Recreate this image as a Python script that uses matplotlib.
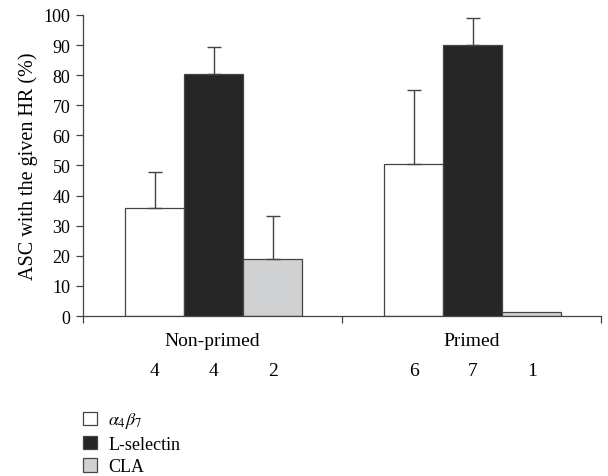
import matplotlib
matplotlib.use('Agg')
import matplotlib.pyplot as plt
from matplotlib.patches import Patch
import numpy as np

plt.rcParams['font.family'] = ['Liberation Serif', 'DejaVu Serif']
plt.rcParams['mathtext.fontset'] = 'stix'

groups = ["Non-primed", "Primed"]
series = ["$\\alpha_4\\beta_7$", "L-selectin", "CLA"]
colors = ["white", "#262626", "#d0d1d3"]
means = {
    "$\\alpha_4\\beta_7$": [35.8, 50.5],
    "L-selectin": [80.4, 90.0],
    "CLA": [18.8, 1.2],
}
errors = {
    "$\\alpha_4\\beta_7$": [12.0, 24.5],
    "L-selectin": [8.8, 9.0],
    "CLA": [14.4, 0.0],
}
counts = {
    "$\\alpha_4\\beta_7$": [4, 6],
    "L-selectin": [4, 7],
    "CLA": [2, 1],
}

fig = plt.figure(figsize=(6.08, 4.77), dpi=100)
ax = fig.add_axes([0.1365, 0.3354, 0.852, 0.6311])

width = 0.228
offsets = [-width, 0, width]
x = np.arange(len(groups)) + 0.005
edge = "#444444"
for s, c, off in zip(series, colors, offsets):
    xs = x + off
    ax.bar(xs, means[s], width=width, color=c, edgecolor=edge, linewidth=0.9, zorder=2)
    for xi, m, e in zip(xs, means[s], errors[s]):
        if e > 0:
            ax.errorbar(xi, m, yerr=[[0], [e]], fmt='none', ecolor=edge,
                        elinewidth=1.0, capsize=5, capthick=1.0, zorder=3)
    for xi, n in zip(xs, counts[s]):
        ax.text(xi, -18.0, str(n), ha='center', va='center', fontsize=14)

for xi, g in zip(np.arange(len(groups)), groups):
    ax.text(xi, -8.0, g, ha='center', va='center', fontsize=14)

ax.set_xlim(-0.5, 1.5)
ax.set_ylim(0, 100)
ax.set_yticks(range(0, 101, 10))
ax.set_xticks([-0.5, 0.5, 1.5])
ax.set_xticklabels([])
ax.tick_params(axis='y', direction='out', length=5, width=0.9, color=edge, labelsize=13, pad=4)
ax.tick_params(axis='x', direction='out', length=5, width=0.9, color=edge)
for sp in ['top', 'right']:
    ax.spines[sp].set_visible(False)
for sp in ['left', 'bottom']:
    ax.spines[sp].set_color(edge)
    ax.spines[sp].set_linewidth(0.9)
ax.set_ylabel("ASC with the given HR (%)", fontsize=14.5, labelpad=4)

handles = [Patch(facecolor=c, edgecolor=edge, linewidth=0.9) for c in colors]
fig.legend(handles, series, loc='upper left', bbox_to_anchor=(0.1365, 0.1375),
           frameon=False, fontsize=13, handlelength=0.75, handleheight=0.75,
           handletextpad=0.65, labelspacing=0.3, borderpad=0, borderaxespad=0)

plt.savefig("out.png", dpi=100, facecolor="white")
